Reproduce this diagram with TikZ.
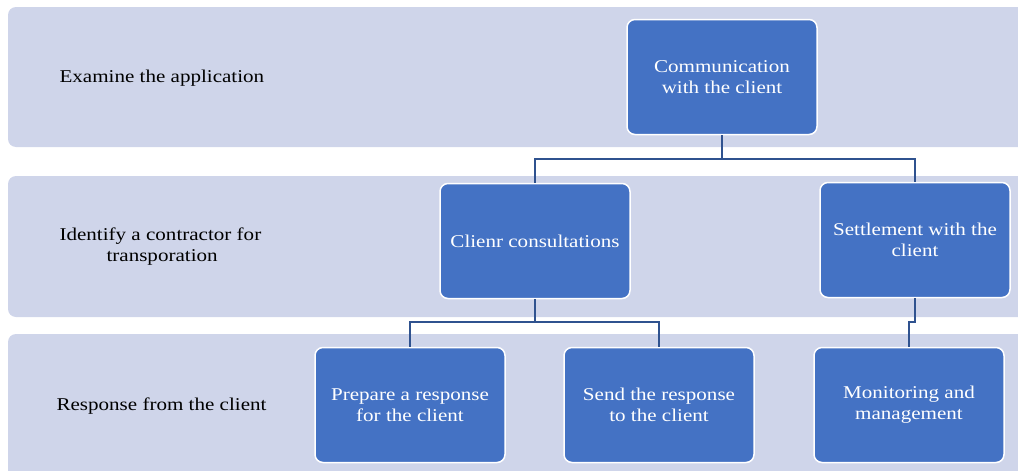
\documentclass[tikz,border=0pt]{standalone}
\usepackage{fontspec}
\setmainfont{Liberation Serif}[FakeStretch=1.17]
\definecolor{bandgray}{RGB}{207,213,234}
\definecolor{boxblue}{RGB}{68,114,196}
\definecolor{linkblue}{RGB}{47,82,143}
\usetikzlibrary{positioning}
\tikzset{
  band/.style={fill=bandgray, draw=none, rounded corners=8pt},
  stepbox/.style={rectangle, rounded corners=8pt, fill=boxblue, draw=white, line width=1.5pt,
    minimum width=190pt, minimum height=115pt, text=white, align=center, font=\fontsize{18}{21}\selectfont},
  lane/.style={anchor=west, align=left, font=\fontsize{18}{21}\selectfont},
  link/.style={draw=linkblue, line width=1.6pt}
}
\begin{document}
\begin{tikzpicture}[x=1pt, y=-1pt]
  \useasboundingbox (0,0) rectangle (1018,471);

  % lanes
  \fill [band] (8,7) rectangle (1040,147);
  \fill [band] (8,176) rectangle (1040,317);
  \fill [band] (8,334) rectangle (1040,490);

  \node [lane] (examine) at (56,78) {Examine the application};
  \node [lane] (identify) at (56,247) {Identify a contractor for\\\hspace{47pt}transporation};
  \node [lane] (reply) at (53,406) {Response from the client};

  % boxes
  \node [stepbox] (comm) at (722,77) {Communication\\with the client};
  \node [stepbox] (consult) at (535,241) {Clienr consultations};
  \node [stepbox] (settle) at (915,240) {Settlement with the\\client};
  \node [stepbox] (prepare) at (410,405) {Prepare a response\\for the client};
  \node [stepbox] (send) at (659,405) {Send the response\\to the client};
  \node [stepbox] (monitor) at (909,405) {Monitoring and\\management};

  % links
  \draw [link] (comm.south) -- ++(0,24) -| (consult.north);
  \draw [link] (comm.south) -- ++(0,24) -| (settle.north);
  \draw [link] (consult.south) -- ++(0,23) -| (prepare.north);
  \draw [link] (consult.south) -- ++(0,23) -| (send.north);
  \draw [link] (settle.south) -- ++(0,24) -| (monitor.north);
\end{tikzpicture}
\end{document}
